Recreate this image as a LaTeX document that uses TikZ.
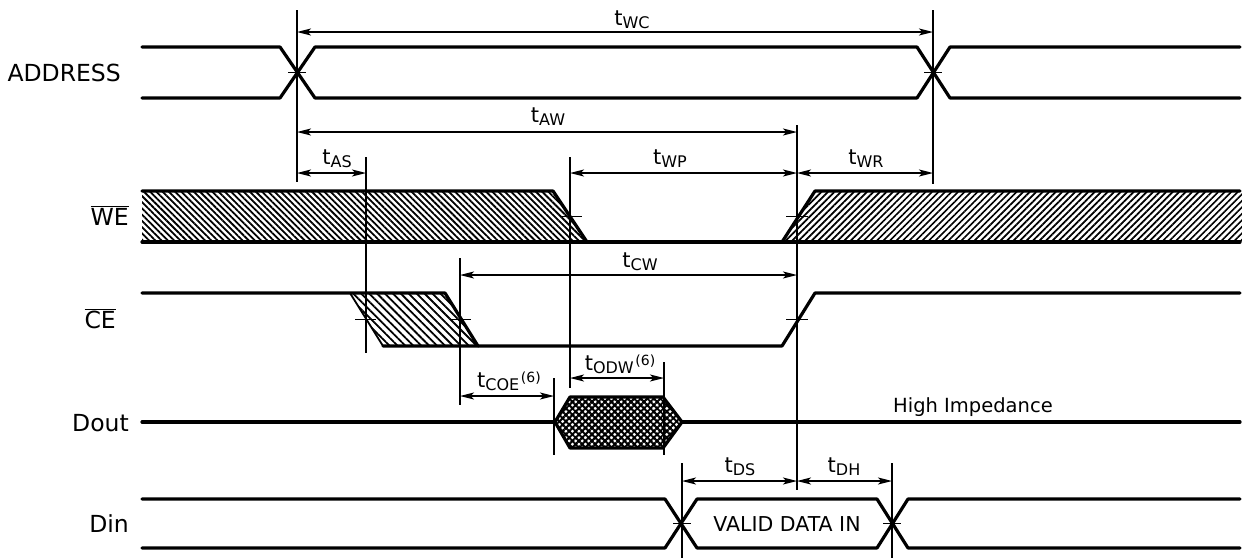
\documentclass[tikz,border=0pt]{standalone}
\usepackage{fontspec}
\setmainfont{DejaVu Sans}
\usetikzlibrary{arrows.meta,patterns.meta}
\newcommand{\tlab}[2][]{{\fontsize{21}{21}\selectfont t}\raisebox{-3.5pt}{\fontsize{16}{16}\selectfont #2}#1}
\newcommand{\six}{\,\raisebox{5pt}{\fontsize{14}{14}\selectfont (6)}}
\newcommand{\ovl}[1]{$\overline{\hbox{#1}}$}
\begin{document}
\begin{tikzpicture}[x=1pt,y=-1pt,
  sig/.style={line width=3.2pt,line join=round,line cap=round},
  thinsig/.style={line width=1.8pt},
  ext/.style={line width=1.7pt},
  dim/.style={line width=1.7pt,{Stealth[length=14pt,width=7pt,inset=3.5pt]}-{Stealth[length=14pt,width=7pt,inset=3.5pt]}},
  tickm/.style={line width=1.8pt},
  lab/.style={font=\fontsize{23.5}{26}\selectfont,inner sep=0pt,anchor=base east},
  tl/.style={inner sep=0pt,anchor=base},
  hatchL/.style={pattern={Lines[angle=-45,distance=4.4pt,line width=1.8pt]}},
  hatchR/.style={pattern={Lines[angle=45,distance=4.6pt,line width=1.7pt]}},
  hatchC/.style={pattern={Lines[angle=-45,distance=5.6pt,line width=1.8pt]}}]
\useasboundingbox (0,0) rectangle (1242,558);

% time marks
\coordinate (tA) at (297,0);
\coordinate (tB) at (366,0);
\coordinate (tC) at (460,0);
\coordinate (tD) at (554,0);
\coordinate (tE) at (570,0);
\coordinate (tF) at (664,0);
\coordinate (tG) at (682,0);
\coordinate (tH) at (797,0);
\coordinate (tI) at (892,0);
\coordinate (tJ) at (933,0);
% arrow levels
\coordinate (yWC) at (0,32);
\coordinate (yAW) at (0,132);
\coordinate (yWP) at (0,173);
\coordinate (yCW) at (0,275);
\coordinate (yODW) at (0,378);
\coordinate (yCOE) at (0,396);
\coordinate (yDS) at (0,481);

% signal names
\node[lab] (nADDR) at (121,81) {ADDRESS};
\node[lab] (nWE) at (129,225) {\ovl{WE}};
\node[lab] (nCE) at (116,328) {\ovl{CE}};
\node[lab] (nDout) at (129,431) {Dout};
\node[lab] (nDin) at (129,532) {Din};

% ADDRESS
\draw[sig] (142,47) -- (280,47) -- (315,98) -- (917,98) -- (950,47) -- (1240,47);
\draw[sig] (142,98) -- (280,98) -- (315,47) -- (917,47) -- (950,98) -- (1240,98);

% WE
\fill[hatchL] (142,191) -- (553,191) -- (587,242) -- (142,242) -- cycle;
\fill[hatchR] (782,242) -- (815,191) -- (1242,191) -- (1242,242) -- cycle;
\draw[sig] (142,191) -- (553,191) -- (587,242);
\draw[sig] (142,242) -- (1240,242);
\draw[sig] (782,242) -- (815,191) -- (1240,191);

% CE
\fill[hatchC] (350,293) -- (445,293) -- (478,346) -- (383,346) -- cycle;
\draw[sig] (142,293) -- (445,293) -- (478,346);
\draw[thinsig] (350,293) -- (383,346);
\draw[sig] (383,346) -- (782,346) -- (815,293) -- (1240,293);

% Dout
\fill[pattern={Lines[angle=45,distance=4.6pt,line width=2pt]}] (555,422) -- (570,397) -- (663,397) -- (682,422) -- (663,448) -- (570,448) -- cycle;
\fill[pattern={Lines[angle=-45,distance=4.6pt,line width=2pt]}] (555,422) -- (570,397) -- (663,397) -- (682,422) -- (663,448) -- (570,448) -- cycle;
\draw[sig] (142,422) -- (555,422);
\draw[sig] (555,422) -- (570,397) -- (663,397) -- (682,422) -- (663,448) -- (570,448) -- cycle;
\draw[sig] (682,422) -- (1240,422);
\node[inner sep=0pt,anchor=base west,font=\fontsize{19.5}{22}\selectfont] (hiz) at (893,412) {High Impedance};

% Din
\draw[sig] (142,499) -- (665,499) -- (697,548) -- (877,548) -- (908,499) -- (1240,499);
\draw[sig] (142,548) -- (665,548) -- (697,499) -- (877,499) -- (908,548) -- (1240,548);
\node[inner sep=0pt,font=\fontsize{20.5}{22}\selectfont] (vdi) at (787,524) {VALID DATA IN};

% extension lines
\draw[ext] (297,10) -- (297,182);
\draw[ext] (933,10) -- (933,184);
\draw[ext] (797,125) -- (797,490);
\draw[ext] (366,157) -- (366,353);
\draw[ext] (570,157) -- (570,388);
\draw[ext] (460,258) -- (460,405);
\draw[ext] (554,378) -- (554,455);
\draw[ext] (664,362) -- (664,455);
\draw[ext] (682,463) -- (682,558);
\draw[ext] (892,463) -- (892,558);

% ticks on transitions
\draw[tickm] (288,72.5) -- (306,72.5);
\draw[tickm] (924,72.5) -- (942,72.5);
\draw[tickm] (560,216.5) -- (582,216.5);
\draw[tickm] (786,216.5) -- (808,216.5);
\draw[tickm] (355,319.5) -- (376,319.5);
\draw[tickm] (450,319.5) -- (471,319.5);
\draw[tickm] (786,319.5) -- (808,319.5);
\draw[tickm] (673,523.5) -- (691,523.5);
\draw[tickm] (883,523.5) -- (901,523.5);

% dimension arrows
\draw[dim] (tA |- yWC) -- (tJ |- yWC);
\draw[dim] (tA |- yAW) -- (tH |- yAW);
\draw[dim] (tA |- yWP) -- (tB |- yWP);
\draw[dim] (tE |- yWP) -- (tH |- yWP);
\draw[dim] (tH |- yWP) -- (tJ |- yWP);
\draw[dim] (tC |- yCW) -- (tH |- yCW);
\draw[dim] (tC |- yCOE) -- (tD |- yCOE);
\draw[dim] (tE |- yODW) -- (tF |- yODW);
\draw[dim] (tG |- yDS) -- (tH |- yDS);
\draw[dim] (tH |- yDS) -- (tI |- yDS);

% timing labels
\node[tl] (lWC) at (632,25) {\tlab{WC}};
\node[tl] (lAW) at (548,122) {\tlab{AW}};
\node[tl] (lAS) at (337,164) {\tlab{AS}};
\node[tl] (lWP) at (670,164) {\tlab{WP}};
\node[tl] (lWR) at (866,164) {\tlab{WR}};
\node[tl] (lCW) at (640,267) {\tlab{CW}};
\node[tl] (lCOE) at (509,387) {\tlab[\six]{COE}};
\node[tl] (lODW) at (620,370) {\tlab[\six]{ODW}};
\node[tl] (lDS) at (740,472) {\tlab{DS}};
\node[tl] (lDH) at (844,472) {\tlab{DH}};
\end{tikzpicture}
\end{document}
